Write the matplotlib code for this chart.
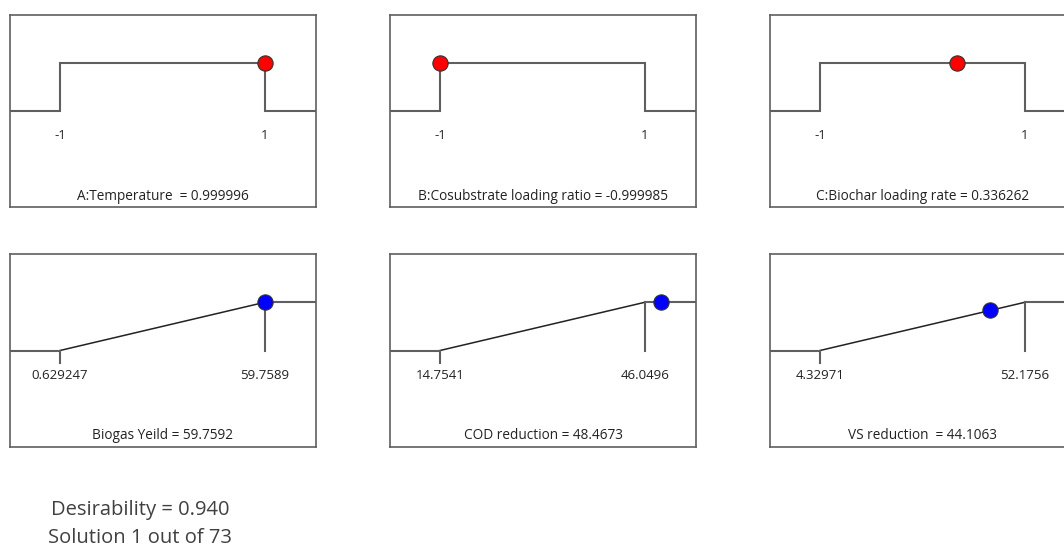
import numpy as np
import matplotlib.pyplot as plt

plt.rcParams['font.family'] = ['Open Sans', 'DejaVu Sans']

# factors (coded units)
factor_names = ['A:Temperature ', 'B:Cosubstrate loading ratio', 'C:Biochar loading rate']
factor_low = [-1, -1, -1]
factor_high = [1, 1, 1]
factor_values = [0.999996, -0.999985, 0.336262]

# responses
response_names = ['Biogas Yeild', 'COD reduction', 'VS reduction ']
response_low = [0.629247, 14.7541, 4.32971]
response_high = [59.7589, 46.0496, 52.1756]
response_values = [59.7592, 48.4673, 44.1063]

desirability = 0.940
solution = 1
n_solutions = 73

W, H = 1064, 546
fig = plt.figure(figsize=(W / 100, H / 100), dpi=100)

line_col = '#5f5f5f'
text_col = '#222222'
lo_y, hi_y = 0.5, 0.75


def make_ax(x0, y_top, y_bot, lo, hi):
    ax = fig.add_axes([x0 / W, (H - y_bot) / H, 306 / W, (y_bot - y_top) / H])
    span = hi - lo
    ax.set_xlim(lo - 50 * span / 205, hi + 51 * span / 205)
    ax.set_ylim(0, 1)
    ax.set_xticks([])
    ax.set_yticks([])
    for s in ax.spines.values():
        s.set_color(line_col)
        s.set_linewidth(1.2)
    return ax


def tick_labels(ax, lo, hi):
    for v in (lo, hi):
        ax.text(v, 0.37, '%g' % v, ha='center', va='center', fontsize=9.5, color=text_col)


cols = [10, 390, 770]

# row 1: factors
for i in range(3):
    lo, hi, val = factor_low[i], factor_high[i], factor_values[i]
    ax = make_ax(cols[i], 15, 207, lo, hi)
    x0, x1 = ax.get_xlim()
    ax.plot([x0, lo, lo, hi, hi, x1], [lo_y, lo_y, hi_y, hi_y, lo_y, lo_y],
            color=line_col, lw=1.5, solid_joinstyle='miter')
    ax.plot(val, hi_y, 'o', ms=11, mfc='red', mec='#333333', mew=0.8, zorder=5, clip_on=False)
    tick_labels(ax, lo, hi)
    ax.text(0.5, 0.057, '%s = %g' % (factor_names[i], val), transform=ax.transAxes,
            ha='center', va='center', fontsize=9.8, color=text_col)

# row 2: responses
for i in range(3):
    lo, hi, val = response_low[i], response_high[i], response_values[i]
    ax = make_ax(cols[i], 254, 447, lo, hi)
    x0, x1 = ax.get_xlim()
    ax.plot([x0, lo], [lo_y, lo_y], color=line_col, lw=1.5)
    ax.plot([hi, x1], [hi_y, hi_y], color=line_col, lw=1.5)
    ax.plot([lo, hi], [lo_y, hi_y], color='#222222', lw=1.1)
    ax.plot([hi, hi], [lo_y, hi_y], color=line_col, lw=1.5)
    ax.plot([lo, lo], [0.435, lo_y], color=line_col, lw=1.5)
    yv = np.interp(val, [lo, hi], [lo_y, hi_y])
    ax.plot(val, yv, 'o', ms=11, mfc='#0000ff', mec='#333333', mew=0.8, zorder=5, clip_on=False)
    tick_labels(ax, lo, hi)
    ax.text(0.5, 0.057, '%s = %g' % (response_names[i], val), transform=ax.transAxes,
            ha='center', va='center', fontsize=9.8, color=text_col)

fig.text(140 / W, 1 - 510 / H, 'Desirability = %.3f' % desirability,
         ha='center', va='center', fontsize=14.5, color='#404040')
fig.text(140 / W, 1 - 538 / H, 'Solution %d out of %d' % (solution, n_solutions),
         ha='center', va='center', fontsize=14.5, color='#404040')

fig.savefig('out.png', dpi=100)
